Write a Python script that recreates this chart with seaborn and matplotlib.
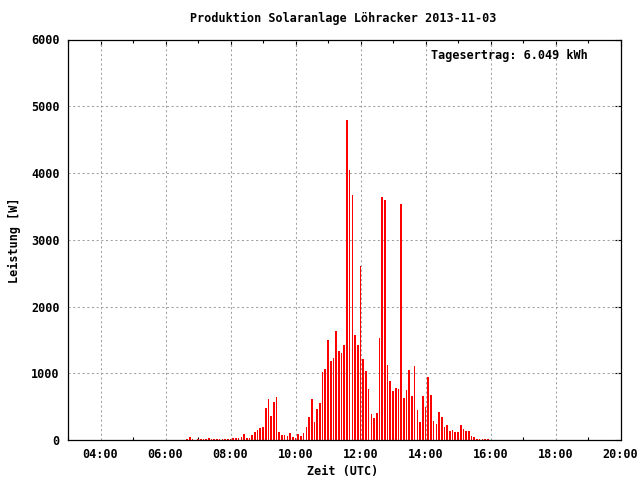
import matplotlib
matplotlib.use("Agg")
import matplotlib.pyplot as plt
import matplotlib.ticker as mticker
import numpy as np
import pandas as pd
import seaborn as sns

# ---- data -----------------------------------------------------------------
title = "Produktion Solaranlage Löhracker 2013-11-03"
xlabel = "Zeit (UTC)"
ylabel = "Leistung [W]"
annotation = "Tagesertrag: 6.049 kWh"

start_time = "06:40:00"      # first sample
step_minutes = 5             # sampling interval

watts = [
    15, 45, 15, 0, 15, 15, 15, 15, 30, 15,
    15, 15, 15, 15, 15, 15, 15, 30, 30, 30,
    45, 90, 30, 30, 75, 120, 150, 180, 195, 480,
    615, 360, 570, 645, 120, 75, 75, 60, 105, 45,
    30, 90, 60, 105, 195, 345, 615, 270, 465, 555,
    1020, 1065, 1500, 1185, 1230, 1635, 1335, 1305, 1425, 4800,
    4050, 3675, 1575, 1425, 2610, 1215, 1035, 765, 390, 330,
    405, 1530, 3645, 3600, 1125, 885, 735, 780, 765, 3540,
    630, 750, 1050, 660, 1110, 450, 270, 660, 495, 945,
    675, 285, 240, 420, 345, 195, 225, 135, 150, 120,
    120, 225, 165, 135, 135, 60, 45, 15, 15, 15,
    15, 15,
]

x_range_hours = (3, 20)
x_major_hours = [4, 6, 8, 10, 12, 14, 16, 18, 20]
y_ticks = [0, 1000, 2000, 3000, 4000, 5000, 6000]

# ---- build frame ------------------------------------------------------------
times = pd.timedelta_range(start=start_time, periods=len(watts),
                           freq=f"{step_minutes}min")
df = pd.DataFrame({"hour": times.total_seconds() / 3600.0, "watt": watts})

# ---- style ------------------------------------------------------------------
sns.set_theme(style="white")
plt.rcParams["font.family"] = ["DejaVu Sans Mono"]
plt.rcParams["font.weight"] = "bold"
FS = 8.5

fig = plt.figure(figsize=(6.4, 4.8), dpi=100)
W, H = 640, 480
ax = fig.add_axes([68 / W, 40 / H, 552.5 / W, 400.5 / H])

sns.barplot(data=df, x="hour", y="watt", native_scale=True, width=0.6,
            color="red", saturation=1, errorbar=None, linewidth=0, ax=ax)
for p in ax.patches:
    p.set_antialiased(False)
    p.set_zorder(2)

ax.set_xlim(*x_range_hours)
ax.set_ylim(y_ticks[0], y_ticks[-1])
ax.xaxis.set_major_locator(mticker.FixedLocator(x_major_hours))
ax.xaxis.set_minor_locator(mticker.MultipleLocator(1))
ax.xaxis.set_major_formatter(
    mticker.FuncFormatter(lambda h, _: f"{int(round(h)):02d}:00"))
ax.yaxis.set_major_locator(mticker.FixedLocator(y_ticks))
ax.yaxis.set_major_formatter(mticker.FuncFormatter(lambda v, _: f"{int(v)}"))
ax.set_xlabel("")
ax.set_ylabel("")

# grid (dotted gray, below bars)
grid_kw = dict(color="#a0a0a0", lw=0.75, linestyle=(0, (2, 2.5)), zorder=1)
for h in x_major_hours:
    if x_range_hours[0] < h < x_range_hours[1]:
        ax.axvline(h, **grid_kw)
for v in y_ticks[1:-1]:
    ax.axhline(v, **grid_kw)

for s in ax.spines.values():
    s.set_color("black")
    s.set_linewidth(0.9)
    s.set_zorder(3)

ax.tick_params(axis="both", which="major", direction="in", length=4.5,
               width=0.8, color="black", top=True, right=True,
               labelsize=FS, labelcolor="black")
ax.tick_params(axis="x", which="major", pad=6)
ax.tick_params(axis="y", which="major", pad=6)
ax.tick_params(axis="x", which="minor", direction="in", length=2.5,
               width=0.8, color="black", top=True, bottom=True)
for lab in ax.get_xticklabels() + ax.get_yticklabels():
    lab.set_fontweight("bold")

# texts
fig.text(343 / W, 1 - 18 / H, title, ha="center", va="center",
         fontsize=FS, fontweight="bold", color="black")
fig.text(343 / W, 1 - 472 / H, xlabel, ha="center", va="center",
         fontsize=FS, fontweight="bold", color="black")
fig.text(14 / W, 1 - 240 / H, ylabel, ha="center", va="center",
         rotation=90, fontsize=FS, fontweight="bold", color="black")
fig.text(588 / W, 1 - 56 / H, annotation, ha="right", va="center",
         fontsize=FS, fontweight="bold", color="black")

fig.savefig("out.png", dpi=100, facecolor="white")
